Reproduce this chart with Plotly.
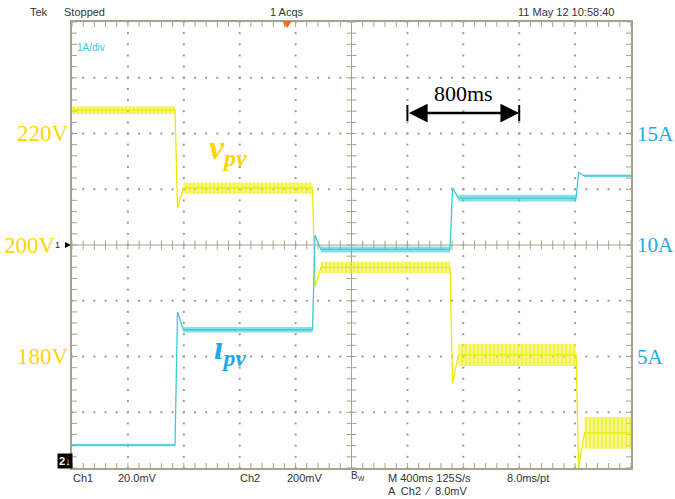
import plotly.graph_objects as go

# ---------------- data ----------------
step_times = [0.737, 1.721, 2.705, 3.607]          # s, instants of the load steps
v_levels = [224.2, 210.2, 196.0, 180.3, 166.3]      # V, PV voltage plateaus
v_ripple = [1.4, 2.0, 2.0, 4.0, 5.7]                # V, peak-to-peak ripple per plateau
v_extreme = [206.6, 192.5, 175.2, 160.0]            # V, undershoot after each step
i_levels = [1.03, 6.2, 9.8, 12.1, 13.1]             # A, PV current plateaus
i_ripple = [0.12, 0.25, 0.27, 0.30, 0.12]           # A, peak-to-peak ripple
i_extreme = [7.0, 10.45, 12.56, 13.25]              # A, overshoot after each step
v_tickvals = [180, 200, 220]
v_ticktext = ["180V", "200V", "220V"]
i_tickvals = [5, 10, 15]
i_ticktext = ["5A", "10A", "15A"]
t_start, t_end = 0.0, 4.0                           # 10 div x 400 ms
v_range = [160, 240]                                # 10 V/div
i_range = [0, 20]                                   # 2.5 A/div
arrow_span = [2.4, 3.2]                             # 800 ms marker

# ---------------- styling ----------------
YEL_TRACE = "#EBEB00"
YEL_TEXT = "#FFD500"
CYA_TRACE = "#3CCCD4"
CYA_TEXT = "#1EAAE2"
GRAT = "#A8A18C"
DOT = "#9A9A9A"
L, R, T, B = 72, 44, 22, 31
W, H = 675, 499
PW, PH = W - L - R, H - T - B
XD, YD = 0.4, 10.0          # one division in data units
XPX = (t_end - t_start) / PW   # data per pixel
YPX = (v_range[1] - v_range[0]) / PH

dt_peak, dt_settle = 0.018, 0.06


def px(x):
    return (x - L) / PW


def py(y):
    return (H - B - y) / PH


def build_line(levels, extreme):
    xs, ys = [t_start], [levels[0]]
    for k, t in enumerate(step_times):
        xs += [t, t + dt_peak, t + dt_settle]
        ys += [levels[k], extreme[k], levels[k + 1]]
    xs.append(t_end)
    ys.append(levels[-1])
    return xs, ys


def build_band(levels, ripple):
    starts = [t_start] + [t + dt_settle for t in step_times]
    ends = step_times + [t_end]
    xs, ys = [], []
    for s, e, lv, r in zip(starts, ends, levels, ripple):
        xs += [s, e, e, s, s, None]
        ys += [lv - r / 2, lv - r / 2, lv + r / 2, lv + r / 2, lv - r / 2, None]
    return xs, ys


fig = go.Figure()

# ---------------- graticule ----------------
dx, dy = [], []
for i in range(1, 10):
    if i == 5:
        continue
    for j in range(0, 41):
        dx.append(i * XD)
        dy.append(v_range[0] + j * YD / 5)
for j in range(1, 8):
    if j == 4:
        continue
    for m in range(0, 51):
        dx.append(m * XD / 5)
        dy.append(v_range[0] + j * YD)
fig.add_trace(go.Scatter(x=dx, y=dy, mode="markers", hoverinfo="skip",
                         marker=dict(size=2, color=DOT, symbol="square", line=dict(width=0))))

gx, gy = [], []
cx, cy = 5 * XD, v_range[0] + 4 * YD
gx += [cx, cx, None, t_start, t_end, None]
gy += [v_range[0], v_range[1], None, cy, cy, None]
for m in range(0, 51):
    x = m * XD / 5
    gx += [x, x, None]
    gy += [cy - 4.5 * YPX, cy + 4.5 * YPX, None]
    gx += [x, x, None, x, x, None]
    gy += [v_range[1], v_range[1] - 5 * YPX, None, v_range[0], v_range[0] + 5 * YPX, None]
for j in range(0, 41):
    y = v_range[0] + j * YD / 5
    gx += [cx - 5 * XPX, cx + 5 * XPX, None]
    gy += [y, y, None]
    gx += [t_start, t_start + 5 * XPX, None, t_end, t_end - 5 * XPX, None]
    gy += [y, y, None, y, y, None]
fig.add_trace(go.Scatter(x=gx, y=gy, mode="lines", hoverinfo="skip",
                         line=dict(color=GRAT, width=1)))

# ---------------- signals ----------------
bx, by = build_band(v_levels, v_ripple)
fig.add_trace(go.Scatter(x=bx, y=by, mode="lines", fill="toself",
                         fillcolor="rgba(235,235,0,0.5)",
                         fillpattern=dict(shape="|", size=4, solidity=0.55,
                                          fgcolor=YEL_TRACE, bgcolor="rgba(242,242,70,0.55)"),
                         line=dict(width=0, color=YEL_TRACE),
                         hoverinfo="skip"))
lx, ly = build_line(v_levels, v_extreme)
fig.add_trace(go.Scatter(x=lx, y=ly, mode="lines", line=dict(color=YEL_TRACE, width=1.3),
                         name="v_pv"))

bx, by = build_band(i_levels, i_ripple)
fig.add_trace(go.Scatter(x=bx, y=by, mode="lines", fill="toself", yaxis="y2",
                         fillcolor="rgba(60,204,212,0.6)", line=dict(width=0, color=CYA_TRACE),
                         hoverinfo="skip"))
lx, ly = build_line(i_levels, i_extreme)
fig.add_trace(go.Scatter(x=lx, y=ly, mode="lines", yaxis="y2",
                         line=dict(color=CYA_TRACE, width=1.3), name="i_pv"))

# ---------------- annotations ----------------
small = dict(family="Liberation Sans Narrow, Liberation Sans, Arial", size=11, color="#333333")
serif_big = "Liberation Serif, Times New Roman, serif"
ann = []


def txt(x, y, s, font=small, xanchor="left"):
    ann.append(dict(x=px(x), y=py(y), xref="paper", yref="paper", text=s, showarrow=False,
                    xanchor=xanchor, yanchor="middle", font=font))


txt(28, 12, "Tek")
txt(62, 12, "Stopped")
txt(268, 12, "1 Acqs")
txt(516, 12, "11 May 12 10:58:40")
txt(71, 478, "Ch1")
txt(116, 478, "20.0mV")
txt(238, 478, "Ch2")
txt(285, 478, "200mV")
txt(349, 476, "B<sub>W</sub>", font=dict(family=small["family"], size=10, color="#333333"))
txt(386, 478, "M 400ms 125S/s")
txt(505, 478, "8.0ms/pt")
txt(386, 491, "A  Ch2  \u2044  8.0mV")
txt(75, 47, "1A/div", font=dict(family=small["family"], size=10, color=CYA_TRACE))

# axis value labels (scope-style, placed by value on each axis)
for v, s in zip(v_tickvals, v_ticktext):
    ann.append(dict(x=px(58 if v == 200 else 71), y=v, xref="paper", yref="y", text=s,
                    showarrow=False, xanchor="right", yanchor="middle",
                    font=dict(family=serif_big, size=23, color=YEL_TEXT)))
for v, s in zip(i_tickvals, i_ticktext):
    ann.append(dict(x=px(635), y=v, xref="paper", yref="y2", text=s,
                    showarrow=False, xanchor="left", yanchor="middle",
                    font=dict(family=serif_big, size=21, color=CYA_TEXT)))

txt(207, 150, "<b><i>v<sub>pv</sub></i></b>", font=dict(family=serif_big, size=34, color=YEL_TEXT))
txt(212, 350, "<b><i>\u0131<sub>pv</sub></i></b>", font=dict(family=serif_big, size=34, color=CYA_TEXT))

ann.append(dict(x=(arrow_span[0] + arrow_span[1]) / 2, y=py(93), xref="x", yref="paper",
                text="800ms", showarrow=False, xanchor="center", yanchor="middle",
                font=dict(family=serif_big, size=22, color="black")))
ay_v = 200 + (245 - 113) * YPX
ann.append(dict(x=arrow_span[1], y=ay_v, ax=arrow_span[0], ay=ay_v, xref="x", yref="y",
                axref="x", ayref="y", text="", showarrow=True, arrowhead=2, arrowside="end+start",
                arrowwidth=2.5, arrowsize=1.5, arrowcolor="black", standoff=0, startstandoff=0))

# channel markers
ann.append(dict(x=px(57), y=py(461), xref="paper", yref="paper", text="<b>2</b>\u2193",
                showarrow=False, xanchor="left", yanchor="middle", bgcolor="black",
                font=dict(family="Liberation Sans", size=11, color="white"), borderpad=1))
ann.append(dict(x=px(62), y=py(245), xref="paper", yref="paper", text="1",
                showarrow=False, xanchor="right", yanchor="middle",
                font=dict(family=small["family"], size=9, color="#222222")))

shapes = []
for xa in arrow_span:
    shapes.append(dict(type="line", xref="x", yref="y", x0=xa, x1=xa,
                       y0=ay_v - 8 * YPX, y1=ay_v + 8 * YPX, line=dict(color="black", width=2)))
# trigger position marker
shapes.append(dict(type="path", xref="paper", yref="paper",
                   path=f"M {px(282)} {py(21)} L {px(292)} {py(21)} L {px(287)} {py(28)} Z",
                   fillcolor="#FF6A13", line=dict(width=0)))
# ch1 ground arrow at 200V
shapes.append(dict(type="path", xref="paper", yref="paper",
                   path=f"M {px(65)} {py(242)} L {px(71)} {py(245)} L {px(65)} {py(248)} Z",
                   fillcolor="black", line=dict(width=0)))

fig.update_layout(
    width=W, height=H, margin=dict(l=L, r=R, t=T, b=B),
    paper_bgcolor="white", plot_bgcolor="white", showlegend=False,
    annotations=ann, shapes=shapes,
    xaxis=dict(range=[t_start, t_end], showgrid=False, zeroline=False, showticklabels=False,
               ticks="", showline=True, linecolor=GRAT, linewidth=1.5, mirror=True, fixedrange=True),
    yaxis=dict(range=v_range, showgrid=False, zeroline=False, showticklabels=False,
               ticks="", showline=True, linecolor=GRAT, linewidth=1.5, mirror=True),
    yaxis2=dict(range=i_range, overlaying="y", side="right", showgrid=False, zeroline=False,
                showticklabels=False, ticks="", showline=False),
)

fig.write_html("out.html", config={"displayModeBar": False},
               post_script="document.body.style.margin='0px';")
